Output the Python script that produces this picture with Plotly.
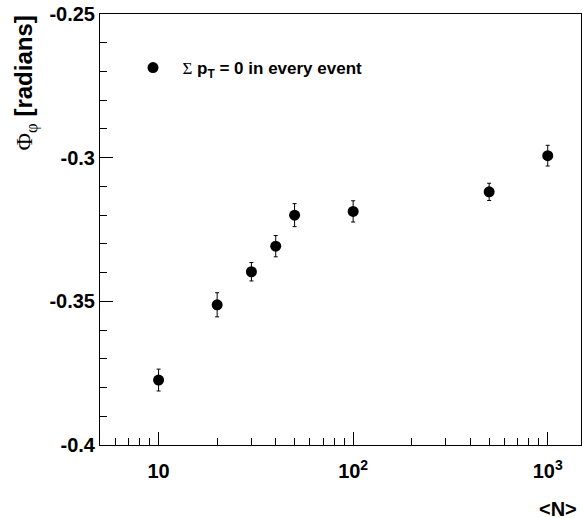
import numpy as np
import plotly.graph_objects as go

# ---- data ----
N_vals = [10, 20, 30, 40, 50, 100, 500, 1000]
phi_vals = [-0.3774, -0.3512, -0.3397, -0.3308, -0.3200, -0.3187, -0.3119, -0.2993]
phi_errs = [0.0038, 0.0042, 0.0032, 0.0037, 0.0040, 0.0037, 0.0030, 0.0036]

y_tickvals = [-0.4, -0.35, -0.3, -0.25]
y_ticktext = ["-0.4", "-0.35", "-0.3", "-0.25"]
x_tickvals = [10, 100, 1000]
x_ticktext = ["10", "10<sup>2</sup>", "10<sup>3</sup>"]
x_minor = [6, 7, 8, 9, 20, 30, 40, 50, 60, 70, 80, 90,
           200, 300, 400, 500, 600, 700, 800, 900]

FONT = "Liberation Sans, Arial, sans-serif"

legend_name = ("&nbsp;&nbsp;<span style='font-family:Liberation Serif;font-weight:normal'>Σ</span>"
               " <b>p<sub>T</sub> = 0 in every event</b>")

fig = go.Figure()
fig.add_trace(go.Scatter(
    x=N_vals, y=phi_vals, mode="markers", name=legend_name,
    marker=dict(color="black", size=11, symbol="circle"),
    error_y=dict(type="data", array=phi_errs, color="black", thickness=1, width=2),
    showlegend=True,
))

fig.update_layout(
    width=582, height=518, autosize=False,
    margin=dict(l=100, r=1, t=14, b=73, pad=0, autoexpand=False),
    paper_bgcolor="white", plot_bgcolor="white",
    font=dict(family=FONT, size=20, color="black"),
    showlegend=True,
    legend=dict(x=(153 - 100 - 20) / 481, xanchor="left", y=(445 - 68) / 431, yanchor="middle",
                font=dict(family=FONT, size=17, color="black"),
                bgcolor="rgba(0,0,0,0)", borderwidth=0),
    xaxis=dict(
        type="log", range=[np.log10(5.0), 3.171], automargin=False,
        showline=True, linecolor="black", linewidth=1, mirror=True,
        showgrid=False, zeroline=False,
        ticks="inside", ticklen=13, tickwidth=1, tickcolor="black",
        tickmode="array", tickvals=x_tickvals,
        ticktext=["<b>" + t + "</b>" for t in x_ticktext],
        tickfont=dict(family=FONT, size=20, color="black"),
        ticklabelstandoff=8,
        minor=dict(ticks="inside", ticklen=7, tickwidth=1, tickcolor="black",
                   tickmode="array", tickvals=x_minor, showgrid=False),
    ),
    yaxis=dict(
        range=[-0.4, -0.25], automargin=False,
        showline=True, linecolor="black", linewidth=1, mirror=True,
        showgrid=False, zeroline=False,
        ticks="inside", ticklen=13, tickwidth=1, tickcolor="black",
        tickmode="array", tickvals=y_tickvals,
        ticktext=["<b>" + t + "</b>" for t in y_ticktext],
        tickfont=dict(family=FONT, size=20, color="black"),
        minor=dict(ticks="inside", ticklen=7, tickwidth=1, tickcolor="black",
                   dtick=0.01, tick0=-0.4, showgrid=False),
    ),
)

fig.add_annotation(
    text="<b>&#60;N&#62;</b>", xref="paper", yref="paper",
    x=1.0, xanchor="right", xshift=-2, y=(445 - 509) / 431, yanchor="middle",
    showarrow=False, font=dict(family=FONT, size=20, color="black"),
)
fig.add_annotation(
    text=("<span style='font-family:Liberation Serif'>Φ</span>"
          "<sub><span style='font-family:Liberation Serif'>φ</span></sub>"
          " <b>[radians]</b>"),
    xref="paper", yref="paper", x=(25 - 100) / 481, xanchor="center",
    y=1.0, yanchor="top", textangle=-90, showarrow=False,
    font=dict(family=FONT, size=24, color="black"),
)

fig.write_html("out.html", config={"displayModeBar": False},
               post_script="document.body.style.margin='0';")
